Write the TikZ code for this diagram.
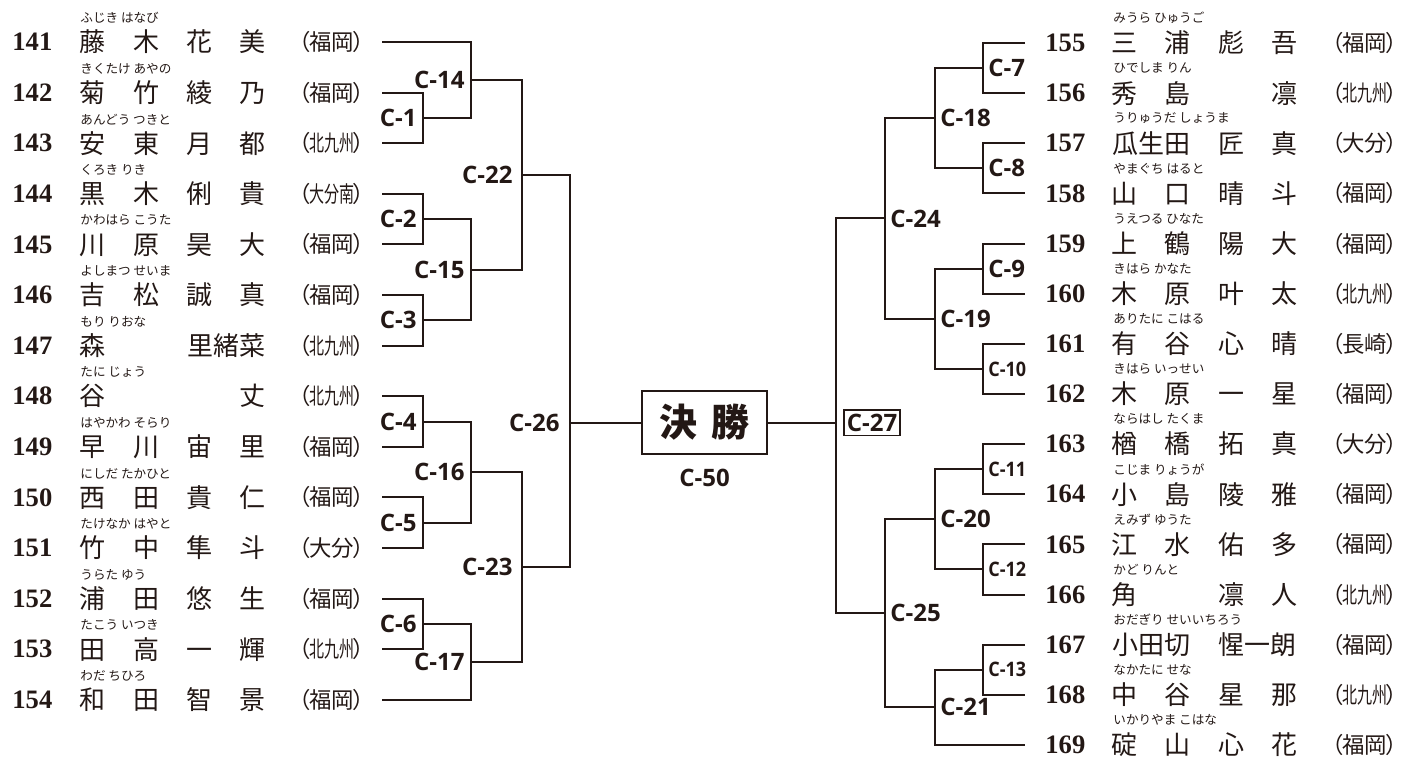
\documentclass[tikz,border=0pt]{standalone}
\usepackage{fontspec}
\setmainfont{Liberation Serif}
\newfontfamily\jpfont{Noto Sans CJK JP}
\newfontfamily\preffont{Noto Sans CJK JP}[RawFeature=+palt]
\newfontfamily\cfont{Open Sans}
\usetikzlibrary{positioning,calc}
\definecolor{ink}{HTML}{231815}

\newcommand\kk[1]{\makebox[26.67pt]{#1}}
\newcommand\kw[1]{\makebox[53.33pt]{#1}}
\newcommand\tri[1]{\scalebox{0.67}[1]{#1}}
\newcommand\pfx[1]{（\makebox[22pt]{#1}）}
\newcommand\bout[4]{%
  \draw[bline] (#2) -- (#2 -| #4) -- (#3 -| #4) -- (#3);
  \coordinate (#1) at ($(#2 -| #4)!.5!(#3 -| #4)$);}

\tikzset{
  bline/.style={line width=1pt, draw=ink},
  num/.style={anchor=west, inner sep=0pt, text=ink, font=\rmfamily\bfseries\fontsize{13.3pt}{14pt}\selectfont},
  kname/.style={anchor=west, inner sep=0pt, text=ink, font=\jpfont\fontsize{13pt}{14pt}\selectfont},
  ruby/.style={anchor=west, inner sep=0pt, text=ink, font=\jpfont\fontsize{6.3pt}{7pt}\selectfont},
  pref/.style={anchor=west, inner sep=0pt, text=ink, font=\preffont\fontsize{11.2pt}{12pt}\selectfont},
  lbl/.style={inner sep=0pt, text=ink, font=\cfont\bfseries\fontsize{12pt}{13pt}\selectfont},
  slbl/.style={lbl, font=\cfont\bfseries\fontsize{10pt}{11pt}\selectfont},
}

\begin{document}
\begin{tikzpicture}[x=0.5pt,y=-0.5pt]
  \useasboundingbox (0,0) rectangle (1412,760);

  \foreach \no/\ru/\nm/\pf [count=\i from 0] in {
    141/{ふじき はなび}/{\kk{藤}\kk{木}\kk{花}\kk{美}}/{福岡},
    142/{きくたけ あやの}/{\kk{菊}\kk{竹}\kk{綾}\kk{乃}}/{福岡},
    143/{あんどう つきと}/{\kk{安}\kk{東}\kk{月}\kk{都}}/{\tri{北九州}},
    144/{くろき りき}/{\kk{黒}\kk{木}\kk{俐}\kk{貴}}/{\tri{大分南}},
    145/{かわはら こうた}/{\kk{川}\kk{原}\kk{昊}\kk{大}}/{福岡},
    146/{よしまつ せいま}/{\kk{吉}\kk{松}\kk{誠}\kk{真}}/{福岡},
    147/{もり りおな}/{\kk{森}\kk{}\kw{里緒菜}}/{\tri{北九州}},
    148/{たに じょう}/{\kk{谷}\kk{}\kk{}\kk{丈}}/{\tri{北九州}},
    149/{はやかわ そらり}/{\kk{早}\kk{川}\kk{宙}\kk{里}}/{福岡},
    150/{にしだ たかひと}/{\kk{西}\kk{田}\kk{貴}\kk{仁}}/{福岡},
    151/{たけなか はやと}/{\kk{竹}\kk{中}\kk{隼}\kk{斗}}/{大分},
    152/{うらた ゆう}/{\kk{浦}\kk{田}\kk{悠}\kk{生}}/{福岡},
    153/{たこう いつき}/{\kk{田}\kk{高}\kk{一}\kk{輝}}/{\tri{北九州}},
    154/{わだ ちひろ}/{\kk{和}\kk{田}\kk{智}\kk{景}}/{福岡}}{
    \node[num] (n\no) at (12,{42+50.6*\i}) {\no};
    \node[ruby] (r\no) at (80,{18+50.6*\i}) {\ru};
    \node[kname] (m\no) at (65.8,{42+50.6*\i}) {\nm};
    \node[pref] (p\no) at (298,{42+50.6*\i}) {\pfx{\pf}};
    \coordinate (l\no) at (382,{42+50.6*\i});
  }

  \foreach \no/\ru/\nm/\pf [count=\i from 0] in {
    155/{みうら ひゅうご}/{\kk{三}\kk{浦}\kk{彪}\kk{吾}}/{福岡},
    156/{ひでしま りん}/{\kk{秀}\kk{島}\kk{}\kk{凛}}/{\tri{北九州}},
    157/{うりゅうだ しょうま}/{\kw{瓜生田}\kk{匠}\kk{真}}/{大分},
    158/{やまぐち はると}/{\kk{山}\kk{口}\kk{晴}\kk{斗}}/{福岡},
    159/{うえつる ひなた}/{\kk{上}\kk{鶴}\kk{陽}\kk{大}}/{福岡},
    160/{きはら かなた}/{\kk{木}\kk{原}\kk{叶}\kk{太}}/{\tri{北九州}},
    161/{ありたに こはる}/{\kk{有}\kk{谷}\kk{心}\kk{晴}}/{長崎},
    162/{きはら いっせい}/{\kk{木}\kk{原}\kk{一}\kk{星}}/{福岡},
    163/{ならはし たくま}/{\kk{楢}\kk{橋}\kk{拓}\kk{真}}/{大分},
    164/{こじま りょうが}/{\kk{小}\kk{島}\kk{陵}\kk{雅}}/{福岡},
    165/{えみず ゆうた}/{\kk{江}\kk{水}\kk{佑}\kk{多}}/{福岡},
    166/{かど りんと}/{\kk{角}\kk{}\kk{凛}\kk{人}}/{\tri{北九州}},
    167/{おだぎり せいいちろう}/{\kw{小田切}\kw{惺一朗}}/{福岡},
    168/{なかたに せな}/{\kk{中}\kk{谷}\kk{星}\kk{那}}/{\tri{北九州}},
    169/{いかりやま こはな}/{\kk{碇}\kk{山}\kk{心}\kk{花}}/{福岡}}{
    \node[num] (n\no) at (1045,{43+50.14*\i}) {\no};
    \node[ruby] (r\no) at (1113,{18+50.14*\i}) {\ru};
    \node[kname] (m\no) at (1097.5,{43+50.14*\i}) {\nm};
    \node[pref] (p\no) at (1331,{43+50.14*\i}) {\pfx{\pf}};
    \coordinate (l\no) at (1025,{43+50.14*\i});
  }

  \coordinate (L1) at (423,0);  \coordinate (L2) at (471,0);
  \coordinate (L3) at (522,0);  \coordinate (L4) at (570,0);
  \coordinate (R1) at (983,0);  \coordinate (R2) at (935,0);
  \coordinate (R3) at (885,0);  \coordinate (R4) at (836,0);

  \node[draw=ink, line width=1pt, minimum width=62.5pt, minimum height=31.5pt,
        text=ink, font=\jpfont\bfseries\fontsize{19pt}{20pt}\selectfont]
        (final) at (704.5,422.5) {決\hspace{7.25pt}勝};
  \node[lbl, below=7pt of final] (t50) {C-50};

  \bout{c1}{l142}{l143}{L1}  \bout{c2}{l144}{l145}{L1}
  \bout{c3}{l146}{l147}{L1}  \bout{c4}{l148}{l149}{L1}
  \bout{c5}{l150}{l151}{L1}  \bout{c6}{l152}{l153}{L1}
  \bout{c14}{l141}{c1}{L2}   \bout{c15}{c2}{c3}{L2}
  \bout{c16}{c4}{c5}{L2}     \bout{c17}{c6}{l154}{L2}
  \bout{c22}{c14}{c15}{L3}   \bout{c23}{c16}{c17}{L3}
  \draw[bline] (c22) -- (c22 -| L4) -- (c23 -| L4) -- (c23);
  \coordinate (c26) at (final.west -| L4);
  \draw[bline] (c26) -- (final.west);

  \bout{c7}{l155}{l156}{R1}  \bout{c8}{l157}{l158}{R1}
  \bout{c9}{l159}{l160}{R1}  \bout{c10}{l161}{l162}{R1}
  \bout{c11}{l163}{l164}{R1} \bout{c12}{l165}{l166}{R1}
  \bout{c13}{l167}{l168}{R1}
  \bout{c18}{c7}{c8}{R2}     \bout{c19}{c9}{c10}{R2}
  \bout{c20}{c11}{c12}{R2}   \bout{c21}{c13}{l169}{R2}
  \bout{c24}{c18}{c19}{R3}   \bout{c25}{c20}{c21}{R3}
  \draw[bline] (c24) -- (c24 -| R4) -- (c25 -| R4) -- (c25);
  \coordinate (c27) at (final.east -| R4);
  \draw[bline] (final.east) -- (c27);

  \foreach \c in {1,...,6} {\node[lbl, left=3pt of c\c] (t\c) {C-\c};}
  \foreach \c in {14,...,17} {\node[lbl, left=3pt of c\c] (t\c) {C-\c};}
  \node[lbl, left=4.5pt of c22] (t22) {C-22};
  \node[lbl, left=4.5pt of c23] (t23) {C-23};
  \node[lbl, left=5pt of c26] (t26) {C-26};
  \foreach \c in {7,8,9} {\node[lbl, right=2.5pt of c\c] (t\c) {C-\c};}
  \foreach \c in {10,...,13} {\node[slbl, right=2.5pt of c\c] (t\c) {\scalebox{.9}[1]{C-\c}};}
  \foreach \c in {18,...,21,24,25} {\node[lbl, right=2.5pt of c\c] (t\c) {C-\c};}
  \node[lbl, draw=ink, line width=0.8pt, inner xsep=1.5pt, inner ysep=2pt,
        right=3.5pt of c27] (t27) {C-27};
\end{tikzpicture}
\end{document}
